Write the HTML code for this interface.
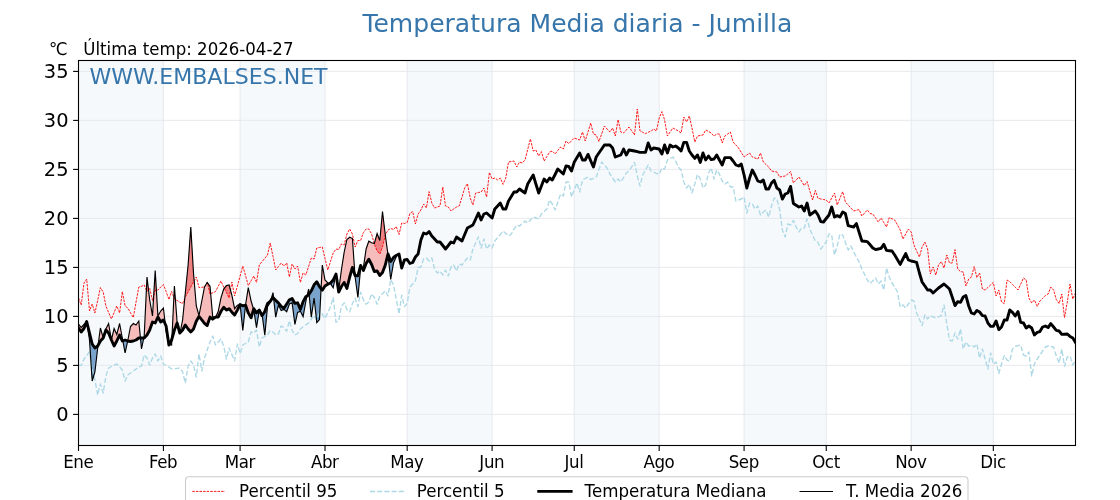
<!DOCTYPE html>
<html lang="es"><head><meta charset="utf-8"><title>Temperatura Media diaria - Jumilla</title>
<style>html,body{margin:0;padding:0;background:#fff;overflow:hidden}body{width:1120px;height:500px}svg{display:block}text{font-family:"DejaVu Sans","Liberation Sans",sans-serif}</style></head><body>
<svg width="1120" height="500" viewBox="0 0 1120 500">
<rect width="1120" height="500" fill="#fff"/>
<defs><clipPath id="ax"><rect x="78.5" y="60.5" width="997.0" height="385.0"/></clipPath></defs>
<g fill="#f5f9fc">
<rect x="78.50" y="60.5" width="84.91" height="385.0"/>
<rect x="240.10" y="60.5" width="84.91" height="385.0"/>
<rect x="407.18" y="60.5" width="84.91" height="385.0"/>
<rect x="574.26" y="60.5" width="84.91" height="385.0"/>
<rect x="744.08" y="60.5" width="82.17" height="385.0"/>
<rect x="911.16" y="60.5" width="82.17" height="385.0"/>
</g>
<g stroke="#e4e6ec" stroke-width="0.9" fill="none">
<line x1="78.5" x2="1075.5" y1="414.40" y2="414.40"/>
<line x1="78.5" x2="1075.5" y1="365.40" y2="365.40"/>
<line x1="78.5" x2="1075.5" y1="316.40" y2="316.40"/>
<line x1="78.5" x2="1075.5" y1="267.40" y2="267.40"/>
<line x1="78.5" x2="1075.5" y1="218.40" y2="218.40"/>
<line x1="78.5" x2="1075.5" y1="169.40" y2="169.40"/>
<line x1="78.5" x2="1075.5" y1="120.40" y2="120.40"/>
<line x1="78.5" x2="1075.5" y1="71.40" y2="71.40"/>
<line x1="78.50" x2="78.50" y1="60.5" y2="445.5"/>
<line x1="163.41" x2="163.41" y1="60.5" y2="445.5"/>
<line x1="240.10" x2="240.10" y1="60.5" y2="445.5"/>
<line x1="325.01" x2="325.01" y1="60.5" y2="445.5"/>
<line x1="407.18" x2="407.18" y1="60.5" y2="445.5"/>
<line x1="492.09" x2="492.09" y1="60.5" y2="445.5"/>
<line x1="574.26" x2="574.26" y1="60.5" y2="445.5"/>
<line x1="659.17" x2="659.17" y1="60.5" y2="445.5"/>
<line x1="744.08" x2="744.08" y1="60.5" y2="445.5"/>
<line x1="826.25" x2="826.25" y1="60.5" y2="445.5"/>
<line x1="911.16" x2="911.16" y1="60.5" y2="445.5"/>
<line x1="993.33" x2="993.33" y1="60.5" y2="445.5"/>
</g>
<g clip-path="url(#ax)">
<path d="M78.5,324.0 L81.2,327.5 L84.0,324.5 L86.7,321.5 L86.7,321.5 L84.0,328.5 L81.2,332.0 L78.5,328.0Z M98.0,345.3 L100.4,328.0 L103.2,338.0 L103.2,338.0 L100.4,341.0 L98.0,345.3Z M103.2,338.0 L105.9,329.0 L108.6,323.5 L111.4,340.0 L111.4,340.0 L108.6,333.0 L105.9,330.0 L103.2,338.0Z M111.4,340.0 L114.1,328.5 L116.8,334.5 L119.6,323.5 L122.3,338.0 L122.8,340.8 L122.8,340.8 L122.3,341.0 L119.6,335.0 L116.8,341.0 L114.1,346.0 L111.4,340.0Z M127.7,341.0 L127.8,340.5 L130.5,326.5 L133.3,323.5 L136.0,325.0 L138.8,321.0 L140.4,338.0 L140.4,338.0 L138.8,338.0 L136.0,340.0 L133.3,341.0 L130.5,341.5 L127.8,341.0 L127.7,341.0Z M143.8,338.0 L144.2,336.0 L147.0,277.0 L149.7,300.0 L152.5,316.0 L155.2,270.5 L157.9,316.0 L160.7,311.0 L163.4,308.0 L165.3,324.2 L165.3,324.2 L163.4,320.0 L160.7,322.0 L157.9,317.0 L155.2,323.0 L152.5,322.0 L149.7,330.0 L147.0,335.0 L144.2,338.0 L143.8,338.0Z M168.6,343.3 L168.9,344.5 L169.1,344.5 L169.1,344.5 L168.9,345.0 L168.6,343.3Z M171.9,339.0 L174.4,286.0 L177.1,322.0 L178.5,328.0 L178.5,328.0 L177.1,323.0 L174.4,330.0 L171.9,339.0Z M180.1,332.7 L182.6,320.0 L185.3,293.0 L188.1,265.0 L190.8,227.0 L193.5,273.0 L196.3,306.0 L199.0,315.5 L201.8,301.0 L204.5,287.0 L207.2,282.5 L210.0,286.3 L212.7,316.5 L215.1,317.4 L215.1,317.4 L212.7,319.2 L210.0,317.1 L207.2,325.5 L204.5,323.4 L201.8,319.9 L199.0,316.4 L196.3,321.3 L193.5,329.0 L190.8,332.0 L188.1,329.0 L185.3,325.0 L182.6,330.0 L180.1,332.7Z M215.6,317.1 L218.2,311.5 L220.9,298.2 L223.7,289.1 L226.4,285.6 L229.1,284.9 L231.9,295.4 L234.6,308.7 L237.4,305.2 L240.1,304.5 L240.1,304.5 L237.4,310.1 L234.6,315.0 L231.9,312.2 L229.1,308.7 L226.4,310.1 L223.7,307.3 L220.9,311.5 L218.2,317.1 L215.6,317.1Z M245.5,305.2 L245.6,304.5 L248.3,287.7 L251.1,301.0 L253.6,309.4 L253.6,309.4 L251.1,317.8 L248.3,312.9 L245.6,305.2 L245.5,305.2Z M259.3,310.1 L262.0,313.6 L262.2,315.4 L262.2,315.4 L262.0,315.7 L259.3,310.1Z M270.8,300.5 L273.0,292.6 L273.6,298.1 L273.6,298.1 L273.0,297.4 L270.8,300.5Z M307.1,296.0 L308.6,289.0 L309.1,294.2 L309.1,294.2 L308.6,295.0 L307.1,296.0Z M321.1,288.6 L322.3,265.0 L325.0,280.0 L327.8,283.0 L329.6,283.4 L329.6,283.4 L327.8,284.2 L325.0,286.0 L322.3,290.2 L321.1,288.6Z M336.0,274.0 L338.7,290.0 L341.4,270.0 L344.2,252.0 L346.9,239.5 L349.7,237.2 L352.4,238.5 L355.0,275.1 L355.0,275.1 L352.4,267.5 L349.7,277.0 L346.9,288.5 L344.2,282.5 L341.4,286.5 L338.7,292.0 L336.0,274.0Z M362.0,268.0 L363.4,267.5 L366.1,249.0 L368.8,241.2 L371.6,242.8 L374.3,243.5 L377.1,233.5 L379.8,240.5 L382.5,211.5 L385.3,235.0 L387.9,254.4 L387.9,254.4 L385.3,265.0 L382.5,272.5 L379.8,275.5 L377.1,271.0 L374.3,271.5 L371.6,264.5 L368.8,259.2 L366.1,263.5 L363.4,270.5 L362.0,268.0Z" fill="#f6bbbb"/>
<path d="M86.7,321.5 L89.5,333.0 L92.2,344.0 L94.9,348.0 L97.7,346.0 L98.0,345.3 L98.0,345.3 L97.7,348.0 L94.9,372.0 L92.2,381.0 L89.5,340.0 L86.7,321.5Z M122.8,340.8 L125.1,340.0 L127.7,341.0 L127.7,341.0 L125.1,353.0 L122.8,340.8Z M140.4,338.0 L141.5,338.0 L143.8,338.0 L143.8,338.0 L141.5,349.0 L140.4,338.0Z M165.3,324.2 L166.1,326.0 L168.6,343.3 L168.6,343.3 L166.1,331.0 L165.3,324.2Z M169.1,344.5 L171.6,340.0 L171.9,339.0 L171.9,339.0 L171.6,345.0 L169.1,344.5Z M178.5,328.0 L179.8,333.0 L180.1,332.7 L180.1,332.7 L179.8,334.0 L178.5,328.0Z M215.1,317.4 L215.5,317.1 L215.6,317.1 L215.6,317.1 L215.5,317.5 L215.1,317.4Z M240.1,304.5 L242.8,305.9 L245.5,305.2 L245.5,305.2 L242.8,330.4 L240.1,304.5Z M253.6,309.4 L253.8,308.7 L256.5,312.9 L259.3,310.1 L259.3,310.1 L256.5,327.6 L253.8,310.1 L253.6,309.4Z M262.2,315.4 L264.8,311.5 L267.5,303.6 L270.2,301.3 L270.8,300.5 L270.8,300.5 L270.2,302.5 L267.5,306.8 L264.8,335.3 L262.2,315.4Z M273.6,298.1 L275.7,300.4 L278.4,302.8 L281.2,306.4 L283.9,308.2 L286.7,304.0 L289.4,299.8 L292.1,298.6 L294.9,303.4 L297.6,302.8 L300.4,309.4 L303.1,301.6 L305.8,296.8 L307.1,296.0 L307.1,296.0 L305.8,301.6 L303.1,316.6 L300.4,311.2 L297.6,312.4 L294.9,324.4 L292.1,302.8 L289.4,304.0 L286.7,311.8 L283.9,309.4 L281.2,310.6 L278.4,305.2 L275.7,317.2 L273.6,298.1Z M309.1,294.2 L311.3,290.8 L314.1,284.8 L316.8,281.8 L319.5,286.6 L321.1,288.6 L321.1,288.6 L319.5,319.6 L316.8,322.6 L314.1,298.0 L311.3,317.2 L309.1,294.2Z M329.6,283.4 L330.5,283.0 L333.2,280.0 L336.0,274.0 L336.0,274.0 L333.2,287.8 L330.5,283.6 L329.6,283.4Z M355.0,275.1 L355.1,275.5 L357.9,275.8 L360.6,265.5 L362.0,268.0 L362.0,268.0 L360.6,268.5 L357.9,297.5 L355.1,277.0 L355.0,275.1Z M387.9,254.4 L388.0,254.0 L390.7,261.5 L393.5,257.5 L396.2,255.5 L396.2,257.0 L393.5,263.0 L390.7,279.5 L388.0,255.0 L387.9,254.4Z" fill="#7aa3cb"/>
<path d="M146.4,290.1 L147.0,277.0 L148.5,289.8 L148.5,289.8 L147.0,291.5 L146.4,290.1Z M153.6,296.1 L155.2,270.5 L156.4,290.3 L156.4,290.3 L155.2,290.5 L153.6,296.1Z M173.8,297.5 L174.4,286.0 L175.4,299.6 L175.4,299.6 L174.4,299.0 L173.8,297.5Z M184.8,298.3 L185.3,293.0 L188.1,265.0 L190.8,227.0 L193.5,273.0 L194.2,280.8 L194.2,280.8 L193.5,282.0 L190.8,287.0 L188.1,292.0 L185.3,297.0 L184.8,298.3Z M207.3,282.5 L210.0,286.3 L210.6,293.7 L210.6,293.7 L210.0,294.0 L207.3,282.5Z M224.3,288.3 L226.4,285.6 L229.1,284.9 L230.5,290.1 L230.5,290.1 L229.1,298.0 L226.4,292.5 L224.3,288.3Z M374.2,243.5 L374.3,243.5 L377.1,233.5 L379.8,240.5 L382.5,211.5 L385.3,235.0 L385.3,235.0 L382.5,247.0 L379.8,254.0 L377.1,251.0 L374.3,244.0 L374.2,243.5Z" fill="#ee8282"/>
<path d="M90.9,361.4 L92.2,370.0 L93.8,375.8 L93.8,375.8 L92.2,381.0 L90.9,361.4Z M316.4,319.4 L316.8,320.0 L319.5,312.5 L319.9,312.7 L319.9,312.7 L319.5,319.6 L316.8,322.6 L316.4,319.4Z" fill="#5a8ec0"/>
<polyline points="78.5,298.0 81.2,305.0 84.0,283.0 86.7,279.0 89.5,311.0 92.2,304.0 94.9,313.0 97.7,300.3 100.4,287.6 103.2,292.0 105.9,306.0 108.6,312.5 111.4,319.0 114.1,312.5 116.8,306.0 119.6,313.0 122.3,291.6 125.1,306.0 127.8,308.0 130.5,312.8 133.3,317.6 136.0,302.3 138.8,287.0 141.5,286.3 144.2,285.0 147.0,291.5 149.7,288.5 152.5,300.5 155.2,290.5 157.9,290.0 160.7,287.0 163.4,284.5 166.1,291.5 168.9,299.5 171.6,291.5 174.4,299.0 177.1,300.5 179.8,302.1 182.6,303.6 185.3,297.0 188.1,292.0 190.8,287.0 193.5,282.0 196.3,277.0 199.0,287.6 201.8,287.3 204.5,287.0 207.2,282.4 210.0,294.0 212.7,292.8 215.5,291.6 218.2,286.3 220.9,281.0 223.7,287.0 226.4,292.5 229.1,298.0 231.9,282.0 234.6,296.0 237.4,286.0 240.1,276.0 242.8,266.0 245.6,275.8 248.3,285.6 251.1,280.8 253.8,276.0 256.5,282.4 259.3,265.0 262.0,261.7 264.8,258.3 267.5,255.0 270.2,243.0 273.0,256.5 275.7,270.0 278.4,266.5 281.2,263.0 283.9,266.0 286.7,263.0 289.4,277.0 292.1,264.0 294.9,269.0 297.6,266.0 300.4,282.4 303.1,273.0 305.8,275.0 308.6,266.5 311.3,258.0 314.1,259.0 316.8,248.0 319.5,247.5 322.3,247.0 325.0,258.5 327.8,270.0 330.5,261.5 333.2,253.0 336.0,249.0 338.7,249.5 341.4,244.0 344.2,245.0 346.9,234.0 349.7,229.0 352.4,234.0 355.1,247.0 357.9,240.5 360.6,240.5 363.4,232.5 366.1,229.0 368.8,229.0 371.6,234.0 374.3,244.0 377.1,251.0 379.8,254.0 382.5,247.0 385.3,235.0 388.0,230.0 390.7,228.5 393.5,229.5 396.2,226.5 399.0,234.5 401.7,223.0 404.4,223.5 407.2,222.5 409.9,213.5 412.7,211.5 415.4,224.0 418.1,214.0 420.9,210.0 423.6,204.0 426.4,208.0 429.1,191.6 431.8,203.0 434.6,208.0 437.3,207.0 440.0,206.0 442.8,187.0 445.5,206.0 448.3,207.0 451.0,211.0 453.7,209.0 456.5,207.0 459.2,206.0 462.0,197.0 464.7,188.0 467.4,183.6 470.2,198.0 472.9,205.0 475.7,193.0 478.4,192.5 481.1,192.0 483.9,188.0 486.6,197.0 489.4,172.4 492.1,179.0 494.8,178.0 497.6,180.0 500.3,178.0 503.0,184.4 505.8,178.0 508.5,162.0 511.3,161.5 514.0,161.0 516.7,167.0 519.5,162.0 522.2,163.0 525.0,160.0 527.7,149.5 530.4,139.0 533.2,151.0 535.9,150.0 538.7,156.0 541.4,151.6 544.1,161.0 546.9,156.5 549.6,152.0 552.3,151.0 555.1,154.0 557.8,150.5 560.6,147.0 563.3,149.0 566.0,141.0 568.8,143.6 571.5,140.8 574.3,138.0 577.0,139.0 579.7,140.0 582.5,132.0 585.2,141.0 588.0,132.0 590.7,123.0 593.4,134.0 596.2,135.0 598.9,141.6 601.7,133.8 604.4,126.0 607.1,129.0 609.9,132.0 612.6,128.0 615.3,136.0 618.1,119.6 620.8,132.0 623.6,133.0 626.3,130.0 629.0,127.0 631.8,131.0 634.5,135.0 637.3,109.0 640.0,131.0 642.7,132.3 645.5,133.6 648.2,132.3 651.0,131.0 653.7,129.0 656.4,131.0 659.2,118.0 661.9,111.6 664.6,120.0 667.4,136.0 670.1,132.0 672.9,128.0 675.6,129.5 678.3,131.0 681.1,133.0 683.8,117.0 686.6,122.0 689.3,116.0 692.0,128.0 694.8,142.0 697.5,136.0 700.3,135.5 703.0,135.0 705.7,130.0 708.5,131.5 711.2,133.0 714.0,136.0 716.7,134.0 719.4,134.0 722.2,143.0 724.9,136.0 727.6,134.0 730.4,132.0 733.1,142.0 735.9,145.0 738.6,148.0 741.3,152.5 744.1,157.0 746.8,155.0 749.6,153.0 752.3,157.0 755.0,158.0 757.8,159.0 760.5,153.0 763.3,162.0 766.0,164.5 768.7,167.0 771.5,171.0 774.2,171.5 776.9,172.0 779.7,177.0 782.4,176.5 785.2,176.0 787.9,173.8 790.6,171.6 793.4,183.0 796.1,180.0 798.9,177.0 801.6,181.3 804.3,185.6 807.1,181.6 809.8,190.8 812.6,200.0 815.3,190.4 818.0,198.4 820.8,198.9 823.5,199.5 826.2,200.0 829.0,203.0 831.7,198.0 834.5,193.0 837.2,205.0 839.9,198.3 842.7,191.6 845.4,202.0 848.2,205.0 850.9,208.0 853.6,211.0 856.4,210.3 859.1,209.6 861.9,216.0 864.6,213.0 867.3,210.0 870.1,213.6 872.8,214.0 875.6,218.0 878.3,222.0 881.0,218.0 883.8,222.5 886.5,227.0 889.2,217.6 892.0,218.8 894.7,220.0 897.5,225.0 900.2,230.0 902.9,239.0 905.7,234.0 908.4,229.0 911.2,232.0 913.9,245.0 916.6,251.0 919.4,257.0 922.1,247.0 924.9,242.0 927.6,249.0 930.3,274.0 933.1,267.0 935.8,275.0 938.5,265.0 941.3,261.6 944.0,268.0 946.8,255.0 949.5,263.0 952.2,263.0 955.0,249.6 957.7,269.0 960.5,271.6 963.2,272.0 965.9,286.0 968.7,279.0 971.4,277.0 974.2,266.6 976.9,277.6 979.6,273.0 982.4,289.0 985.1,290.0 987.9,287.5 990.6,284.9 993.3,282.4 996.1,296.0 998.8,290.0 1001.5,302.0 1004.3,303.6 1007.0,280.0 1009.8,281.6 1012.5,284.4 1015.2,287.2 1018.0,290.0 1020.7,284.0 1023.5,278.0 1026.2,280.0 1028.9,298.0 1031.7,303.0 1034.4,300.0 1037.2,306.4 1039.9,301.0 1042.6,298.3 1045.4,295.6 1048.1,294.0 1050.8,287.0 1053.6,290.0 1056.3,299.6 1059.1,303.6 1061.8,294.0 1064.5,317.6 1067.3,302.0 1070.0,284.0 1072.8,299.0 1075.5,293.0" fill="none" stroke="#ff0000" stroke-width="0.9" stroke-dasharray="2.5 1.1"/>
<polyline points="78.5,365.0 81.2,365.6 84.0,359.0 86.7,355.5 89.5,352.0 92.2,370.0 94.9,380.0 97.7,395.0 100.4,384.0 103.2,393.0 105.9,376.0 108.6,368.0 111.4,366.5 114.1,365.0 116.8,364.0 119.6,367.0 122.3,370.0 125.1,381.0 127.8,375.0 130.5,373.0 133.3,371.0 136.0,369.0 138.8,367.0 141.5,366.0 144.2,355.0 147.0,358.0 149.7,365.0 152.5,358.0 155.2,354.0 157.9,361.0 160.7,356.0 163.4,364.0 166.1,365.5 168.9,367.0 171.6,369.0 174.4,368.7 177.1,368.3 179.8,368.0 182.6,372.0 185.3,383.0 188.1,366.0 190.8,361.0 193.5,365.0 196.3,377.0 199.0,354.0 201.8,371.0 204.5,358.0 207.2,350.0 210.0,342.0 212.7,336.0 215.5,345.0 218.2,342.0 220.9,339.0 223.7,346.0 226.4,359.0 229.1,348.0 231.9,354.5 234.6,361.0 237.4,344.0 240.1,353.6 242.8,345.0 245.6,343.5 248.3,342.0 251.1,332.0 253.8,333.0 256.5,330.0 259.3,347.0 262.0,338.0 264.8,336.5 267.5,335.0 270.2,330.5 273.0,332.0 275.7,335.0 278.4,334.0 281.2,326.0 283.9,327.5 286.7,331.2 289.4,320.8 292.1,330.5 294.9,335.0 297.6,333.5 300.4,329.0 303.1,326.8 305.8,324.9 308.6,323.0 311.3,319.2 314.1,315.5 316.8,320.0 319.5,312.5 322.3,314.0 325.0,318.5 327.8,312.5 330.5,306.5 333.2,297.5 336.0,322.2 338.7,320.8 341.4,306.5 344.2,302.8 346.9,309.5 349.7,311.8 352.4,303.5 355.1,298.2 357.9,306.5 360.6,292.2 363.4,299.8 366.1,304.2 368.8,302.0 371.6,293.8 374.3,297.5 377.1,304.2 379.8,296.0 382.5,293.8 385.3,290.8 388.0,296.0 390.7,279.5 393.5,284.8 396.2,299.0 399.0,314.0 401.7,295.2 404.4,306.5 407.2,303.5 409.9,287.0 412.7,284.0 415.4,281.0 418.1,267.5 420.9,267.0 423.6,259.0 426.4,258.0 429.1,261.0 431.8,258.0 434.6,269.0 437.3,273.0 440.0,271.0 442.8,275.0 445.5,270.0 448.3,276.0 451.0,267.0 453.7,265.0 456.5,271.0 459.2,264.0 462.0,265.0 464.7,261.5 467.4,258.0 470.2,260.0 472.9,249.0 475.7,243.0 478.4,237.0 481.1,248.0 483.9,239.0 486.6,249.0 489.4,245.0 492.1,248.0 494.8,241.0 497.6,237.7 500.3,234.3 503.0,231.0 505.8,233.5 508.5,236.0 511.3,234.0 514.0,229.0 516.7,225.0 519.5,226.0 522.2,223.5 525.0,221.0 527.7,223.0 530.4,220.0 533.2,217.0 535.9,218.0 538.7,219.0 541.4,214.0 544.1,211.5 546.9,209.0 549.6,200.0 552.3,204.0 555.1,210.0 557.8,202.0 560.6,194.0 563.3,196.0 566.0,182.0 568.8,182.0 571.5,197.0 574.3,190.0 577.0,183.0 579.7,192.0 582.5,180.0 585.2,178.5 588.0,177.0 590.7,179.6 593.4,178.3 596.2,177.0 598.9,169.5 601.7,162.0 604.4,165.0 607.1,168.0 609.9,174.0 612.6,178.0 615.3,182.0 618.1,179.0 620.8,182.0 623.6,177.5 626.3,173.0 629.0,171.0 631.8,166.7 634.5,162.4 637.3,176.0 640.0,186.0 642.7,175.0 645.5,170.0 648.2,165.0 651.0,171.0 653.7,172.1 656.4,173.3 659.2,174.4 661.9,168.0 664.6,169.0 667.4,160.0 670.1,158.5 672.9,157.0 675.6,161.0 678.3,167.0 681.1,170.0 683.8,182.0 686.6,188.0 689.3,184.4 692.0,193.0 694.8,184.0 697.5,174.4 700.3,179.0 703.0,188.0 705.7,185.0 708.5,173.0 711.2,168.0 714.0,179.0 716.7,170.0 719.4,174.0 722.2,181.0 724.9,184.0 727.6,182.0 730.4,187.0 733.1,187.0 735.9,201.0 738.6,200.0 741.3,199.0 744.1,197.0 746.8,213.0 749.6,203.0 752.3,204.0 755.0,209.0 757.8,206.0 760.5,215.0 763.3,212.0 766.0,210.0 768.7,217.0 771.5,206.0 774.2,198.0 776.9,199.0 779.7,210.0 782.4,230.0 785.2,237.0 787.9,224.0 790.6,225.0 793.4,220.4 796.1,227.0 798.9,232.0 801.6,228.0 804.3,228.0 807.1,219.0 809.8,229.0 812.6,235.0 815.3,241.0 818.0,242.4 820.8,249.0 823.5,245.5 826.2,242.0 829.0,234.0 831.7,235.0 834.5,255.0 837.2,246.0 839.9,234.0 842.7,235.0 845.4,242.5 848.2,250.0 850.9,246.0 853.6,252.0 856.4,257.0 859.1,262.0 861.9,269.0 864.6,274.5 867.3,280.0 870.1,283.6 872.8,280.8 875.6,278.0 878.3,284.0 881.0,281.0 883.8,290.0 886.5,268.0 889.2,277.0 892.0,283.0 894.7,287.0 897.5,292.0 900.2,307.0 902.9,305.0 905.7,308.0 908.4,304.0 911.2,300.0 913.9,301.0 916.6,313.0 919.4,319.3 922.1,325.6 924.9,315.0 927.6,319.0 930.3,315.6 933.1,316.8 935.8,318.0 938.5,316.8 941.3,315.6 944.0,305.0 946.8,324.0 949.5,340.0 952.2,341.0 955.0,333.0 957.7,339.0 960.5,329.0 963.2,349.0 965.9,342.0 968.7,346.0 971.4,345.0 974.2,347.0 976.9,344.0 979.6,358.0 982.4,349.0 985.1,359.0 987.9,369.0 990.6,353.0 993.3,364.0 996.1,362.0 998.8,373.6 1001.5,364.0 1004.3,355.6 1007.0,360.0 1009.8,361.0 1012.5,349.0 1015.2,346.4 1018.0,345.7 1020.7,345.0 1023.5,355.0 1026.2,356.0 1028.9,352.0 1031.7,376.0 1034.4,364.0 1037.2,359.0 1039.9,355.0 1042.6,351.0 1045.4,347.0 1048.1,346.0 1050.8,346.5 1053.6,347.0 1056.3,356.0 1059.1,363.0 1061.8,349.0 1064.5,366.4 1067.3,357.0 1070.0,356.0 1072.8,365.0 1075.5,360.0" fill="none" stroke="#add8e6" stroke-width="1.35" stroke-dasharray="5 2.2" stroke-linejoin="round"/>
<polyline points="78.5,328.0 81.2,332.0 84.0,328.5 86.7,321.5 89.5,333.0 92.2,344.0 94.9,348.0 97.7,346.0 100.4,341.0 103.2,338.0 105.9,330.0 108.6,333.0 111.4,340.0 114.1,346.0 116.8,341.0 119.6,335.0 122.3,341.0 125.1,340.0 127.8,341.0 130.5,341.5 133.3,341.0 136.0,340.0 138.8,338.0 141.5,338.0 144.2,338.0 147.0,335.0 149.7,330.0 152.5,322.0 155.2,323.0 157.9,317.0 160.7,322.0 163.4,320.0 166.1,326.0 168.9,345.0 171.6,340.0 174.4,330.0 177.1,323.0 179.8,333.0 182.6,330.0 185.3,325.0 188.1,329.0 190.8,332.0 193.5,329.0 196.3,321.3 199.0,316.4 201.8,319.9 204.5,323.4 207.2,325.5 210.0,317.1 212.7,319.2 215.5,317.1 218.2,317.1 220.9,311.5 223.7,307.3 226.4,310.1 229.1,308.7 231.9,312.2 234.6,315.0 237.4,310.1 240.1,304.5 242.8,305.9 245.6,305.2 248.3,312.9 251.1,317.8 253.8,308.7 256.5,312.9 259.3,310.1 262.0,315.7 264.8,311.5 267.5,303.6 270.2,301.3 273.0,297.4 275.7,300.4 278.4,302.8 281.2,306.4 283.9,308.2 286.7,304.0 289.4,299.8 292.1,298.6 294.9,303.4 297.6,302.8 300.4,309.4 303.1,301.6 305.8,296.8 308.6,295.0 311.3,290.8 314.1,284.8 316.8,281.8 319.5,286.6 322.3,290.2 325.0,286.0 327.8,284.2 330.5,283.0 333.2,280.0 336.0,274.0 338.7,292.0 341.4,286.5 344.2,282.5 346.9,288.5 349.7,277.0 352.4,267.5 355.1,275.5 357.9,275.8 360.6,265.5 363.4,270.5 366.1,263.5 368.8,259.2 371.6,264.5 374.3,271.5 377.1,271.0 379.8,275.5 382.5,272.5 385.3,265.0 388.0,254.0 390.7,261.5 393.5,257.5 396.2,255.5 399.0,254.0 401.7,268.0 404.4,260.0 407.2,259.5 409.9,263.5 412.7,262.5 415.4,257.0 418.1,254.0 420.9,240.0 423.6,233.0 426.4,234.0 429.1,231.6 431.8,236.0 434.6,239.0 437.3,242.0 440.0,242.0 442.8,245.5 445.5,249.0 448.3,245.5 451.0,242.0 453.7,243.0 456.5,237.0 459.2,239.0 462.0,241.0 464.7,234.5 467.4,228.0 470.2,226.5 472.9,225.0 475.7,219.0 478.4,213.0 481.1,220.0 483.9,214.0 486.6,213.0 489.4,215.5 492.1,218.0 494.8,209.0 497.6,206.0 500.3,203.0 503.0,209.0 505.8,209.0 508.5,201.0 511.3,196.5 514.0,192.0 516.7,192.0 519.5,189.0 522.2,191.0 525.0,193.0 527.7,184.0 530.4,179.5 533.2,175.0 535.9,184.0 538.7,193.0 541.4,186.0 544.1,179.0 546.9,182.0 549.6,178.0 552.3,180.0 555.1,174.5 557.8,169.0 560.6,171.5 563.3,174.0 566.0,166.0 568.8,166.4 571.5,171.0 574.3,162.0 577.0,157.5 579.7,153.0 582.5,160.0 585.2,160.0 588.0,154.4 590.7,160.7 593.4,167.0 596.2,157.0 598.9,153.0 601.7,149.0 604.4,145.0 607.1,145.0 609.9,145.0 612.6,148.0 615.3,157.0 618.1,156.0 620.8,155.0 623.6,149.0 626.3,155.0 629.0,150.0 631.8,150.5 634.5,151.0 637.3,151.7 640.0,152.4 642.7,152.4 645.5,152.4 648.2,143.0 651.0,150.0 653.7,148.0 656.4,148.5 659.2,149.0 661.9,154.0 664.6,145.0 667.4,153.0 670.1,145.0 672.9,147.0 675.6,146.0 678.3,148.0 681.1,151.0 683.8,142.4 686.6,142.4 689.3,151.0 692.0,155.0 694.8,158.4 697.5,155.0 700.3,162.4 703.0,153.0 705.7,160.0 708.5,156.0 711.2,159.6 714.0,159.0 716.7,155.0 719.4,160.0 722.2,165.0 724.9,157.6 727.6,157.6 730.4,157.6 733.1,161.0 735.9,165.0 738.6,166.0 741.3,164.0 744.1,175.0 746.8,188.0 749.6,178.0 752.3,170.0 755.0,175.0 757.8,181.0 760.5,182.0 763.3,180.0 766.0,189.0 768.7,189.0 771.5,183.0 774.2,180.4 776.9,188.0 779.7,190.0 782.4,199.0 785.2,194.0 787.9,193.0 790.6,186.4 793.4,203.6 796.1,205.3 798.9,207.0 801.6,206.0 804.3,211.0 807.1,203.0 809.8,215.0 812.6,213.0 815.3,211.0 818.0,215.0 820.8,221.6 823.5,222.0 826.2,218.5 829.0,215.0 831.7,207.0 834.5,217.0 837.2,215.6 839.9,217.0 842.7,212.0 845.4,213.6 848.2,225.6 850.9,226.3 853.6,227.0 856.4,223.6 859.1,232.3 861.9,241.0 864.6,241.3 867.3,241.6 870.1,244.8 872.8,248.0 875.6,249.6 878.3,249.0 881.0,248.4 883.8,244.4 886.5,250.4 889.2,250.7 892.0,251.0 894.7,255.0 897.5,259.7 900.2,264.4 902.9,259.0 905.7,253.6 908.4,260.0 911.2,261.0 913.9,261.7 916.6,262.4 919.4,273.0 922.1,282.0 924.9,286.0 927.6,290.0 930.3,290.0 933.1,293.0 935.8,290.5 938.5,288.0 941.3,286.0 944.0,284.0 946.8,286.5 949.5,289.0 952.2,297.0 955.0,305.6 957.7,301.6 960.5,302.4 963.2,297.0 965.9,295.6 968.7,306.0 971.4,313.0 974.2,314.0 976.9,310.4 979.6,312.0 982.4,315.6 985.1,316.0 987.9,323.0 990.6,326.4 993.3,326.4 996.1,321.0 998.8,329.6 1001.5,327.0 1004.3,320.0 1007.0,320.0 1009.8,310.0 1012.5,312.4 1015.2,316.0 1018.0,311.6 1020.7,322.4 1023.5,323.0 1026.2,328.0 1028.9,326.0 1031.7,328.0 1034.4,335.0 1037.2,332.4 1039.9,331.6 1042.6,327.0 1045.4,326.0 1048.1,327.6 1050.8,323.6 1053.6,327.0 1056.3,330.4 1059.1,331.0 1061.8,334.4 1064.5,334.2 1067.3,334.0 1070.0,336.4 1072.8,338.0 1075.5,342.4" fill="none" stroke="#000" stroke-width="2.9" stroke-linejoin="round" stroke-linecap="square"/>
<polyline points="78.5,324.0 81.2,327.5 84.0,324.5 86.7,321.5 89.5,340.0 92.2,381.0 94.9,372.0 97.7,348.0 100.4,328.0 103.2,338.0 105.9,329.0 108.6,323.5 111.4,340.0 114.1,328.5 116.8,334.5 119.6,323.5 122.3,338.0 125.1,353.0 127.8,340.5 130.5,326.5 133.3,323.5 136.0,325.0 138.8,321.0 141.5,349.0 144.2,336.0 147.0,277.0 149.7,300.0 152.5,316.0 155.2,270.5 157.9,316.0 160.7,311.0 163.4,308.0 166.1,331.0 168.9,344.5 171.6,345.0 174.4,286.0 177.1,322.0 179.8,334.0 182.6,320.0 185.3,293.0 188.1,265.0 190.8,227.0 193.5,273.0 196.3,306.0 199.0,315.5 201.8,301.0 204.5,287.0 207.2,282.5 210.0,286.3 212.7,316.5 215.5,317.5 218.2,311.5 220.9,298.2 223.7,289.1 226.4,285.6 229.1,284.9 231.9,295.4 234.6,308.7 237.4,305.2 240.1,304.5 242.8,330.4 245.6,304.5 248.3,287.7 251.1,301.0 253.8,310.1 256.5,327.6 259.3,310.1 262.0,313.6 264.8,335.3 267.5,306.8 270.2,302.5 273.0,292.6 275.7,317.2 278.4,305.2 281.2,310.6 283.9,309.4 286.7,311.8 289.4,304.0 292.1,302.8 294.9,324.4 297.6,312.4 300.4,311.2 303.1,316.6 305.8,301.6 308.6,289.0 311.3,317.2 314.1,298.0 316.8,322.6 319.5,319.6 322.3,265.0 325.0,280.0 327.8,283.0 330.5,283.6 333.2,287.8 336.0,274.0 338.7,290.0 341.4,270.0 344.2,252.0 346.9,239.5 349.7,237.2 352.4,238.5 355.1,277.0 357.9,297.5 360.6,268.5 363.4,267.5 366.1,249.0 368.8,241.2 371.6,242.8 374.3,243.5 377.1,233.5 379.8,240.5 382.5,211.5 385.3,235.0 388.0,255.0 390.7,279.5 393.5,263.0 396.2,257.0" fill="none" stroke="#000" stroke-width="1.15" stroke-linejoin="miter"/>
</g>
<rect x="78.5" y="60.5" width="997.0" height="385.0" fill="none" stroke="#000" stroke-width="1.1"/>
<g stroke="#000" stroke-width="1.1">
<line x1="73.1" x2="78.5" y1="414.40" y2="414.40"/>
<line x1="73.1" x2="78.5" y1="365.40" y2="365.40"/>
<line x1="73.1" x2="78.5" y1="316.40" y2="316.40"/>
<line x1="73.1" x2="78.5" y1="267.40" y2="267.40"/>
<line x1="73.1" x2="78.5" y1="218.40" y2="218.40"/>
<line x1="73.1" x2="78.5" y1="169.40" y2="169.40"/>
<line x1="73.1" x2="78.5" y1="120.40" y2="120.40"/>
<line x1="73.1" x2="78.5" y1="71.40" y2="71.40"/>
<line x1="78.50" x2="78.50" y1="445.5" y2="450.9"/>
<line x1="163.41" x2="163.41" y1="445.5" y2="450.9"/>
<line x1="240.10" x2="240.10" y1="445.5" y2="450.9"/>
<line x1="325.01" x2="325.01" y1="445.5" y2="450.9"/>
<line x1="407.18" x2="407.18" y1="445.5" y2="450.9"/>
<line x1="492.09" x2="492.09" y1="445.5" y2="450.9"/>
<line x1="574.26" x2="574.26" y1="445.5" y2="450.9"/>
<line x1="659.17" x2="659.17" y1="445.5" y2="450.9"/>
<line x1="744.08" x2="744.08" y1="445.5" y2="450.9"/>
<line x1="826.25" x2="826.25" y1="445.5" y2="450.9"/>
<line x1="911.16" x2="911.16" y1="445.5" y2="450.9"/>
<line x1="993.33" x2="993.33" y1="445.5" y2="450.9"/>
</g>
<g font-size="19.44px" fill="#000" text-anchor="end">
<text x="68.5" y="420.70">0</text>
<text x="68.5" y="371.70">5</text>
<text x="68.5" y="322.70">10</text>
<text x="68.5" y="273.70">15</text>
<text x="68.5" y="224.70">20</text>
<text x="68.5" y="175.70">25</text>
<text x="68.5" y="126.70">30</text>
<text x="68.5" y="77.70">35</text>
</g>
<g font-size="16.67px" fill="#000" text-anchor="middle" letter-spacing="-0.4">
<text transform="translate(78.20,468.3) scale(1,1.04)">Ene</text>
<text transform="translate(163.11,468.3) scale(1,1.04)">Feb</text>
<text transform="translate(239.80,468.3) scale(1,1.04)">Mar</text>
<text transform="translate(324.71,468.3) scale(1,1.04)">Abr</text>
<text transform="translate(406.88,468.3) scale(1,1.04)">May</text>
<text transform="translate(491.79,468.3) scale(1,1.04)">Jun</text>
<text transform="translate(573.96,468.3) scale(1,1.04)">Jul</text>
<text transform="translate(658.87,468.3) scale(1,1.04)">Ago</text>
<text transform="translate(743.78,468.3) scale(1,1.04)">Sep</text>
<text transform="translate(825.95,468.3) scale(1,1.04)">Oct</text>
<text transform="translate(910.86,468.3) scale(1,1.04)">Nov</text>
<text transform="translate(993.03,468.3) scale(1,1.04)">Dic</text>
</g>
<text x="577.4" y="31.6" font-size="25.05px" fill="#3776ab" text-anchor="middle">Temperatura Media diaria - Jumilla</text>
<text transform="translate(48.9,54.7) scale(1,1.06)" font-size="16.6px" fill="#000" xml:space="preserve">℃   Última temp: 2026-04-27</text>
<text x="89.4" y="84.4" font-size="22.05px" fill="#3776ab">WWW.EMBALSES.NET</text>
<rect x="185.5" y="476.7" width="782.5" height="40" rx="3.5" ry="3.5" fill="#fff" fill-opacity="0.8" stroke="#cccccc" stroke-width="1.1"/>
<line x1="192.3" x2="225" y1="491.4" y2="491.4" stroke="#ff0000" stroke-width="0.9" stroke-dasharray="2.5 1.1"/>
<line x1="370" x2="404" y1="491.4" y2="491.4" stroke="#add8e6" stroke-width="1.5" stroke-dasharray="5 2.2"/>
<line x1="537.3" x2="572.6" y1="491.4" y2="491.4" stroke="#000" stroke-width="2.8"/>
<line x1="799.5" x2="833" y1="491.4" y2="491.4" stroke="#000" stroke-width="1.05"/>
<g font-size="16.67px" fill="#000">
<text transform="translate(239,497.4) scale(1,1.06)">Percentil 95</text>
<text transform="translate(416.8,497.4) scale(1,1.06)">Percentil 5</text>
<text transform="translate(584.6,497.4) scale(1,1.06)">Temperatura Mediana</text>
<text transform="translate(846,497.4) scale(1,1.06)">T. Media 2026</text>
</g>
</svg></body></html>
